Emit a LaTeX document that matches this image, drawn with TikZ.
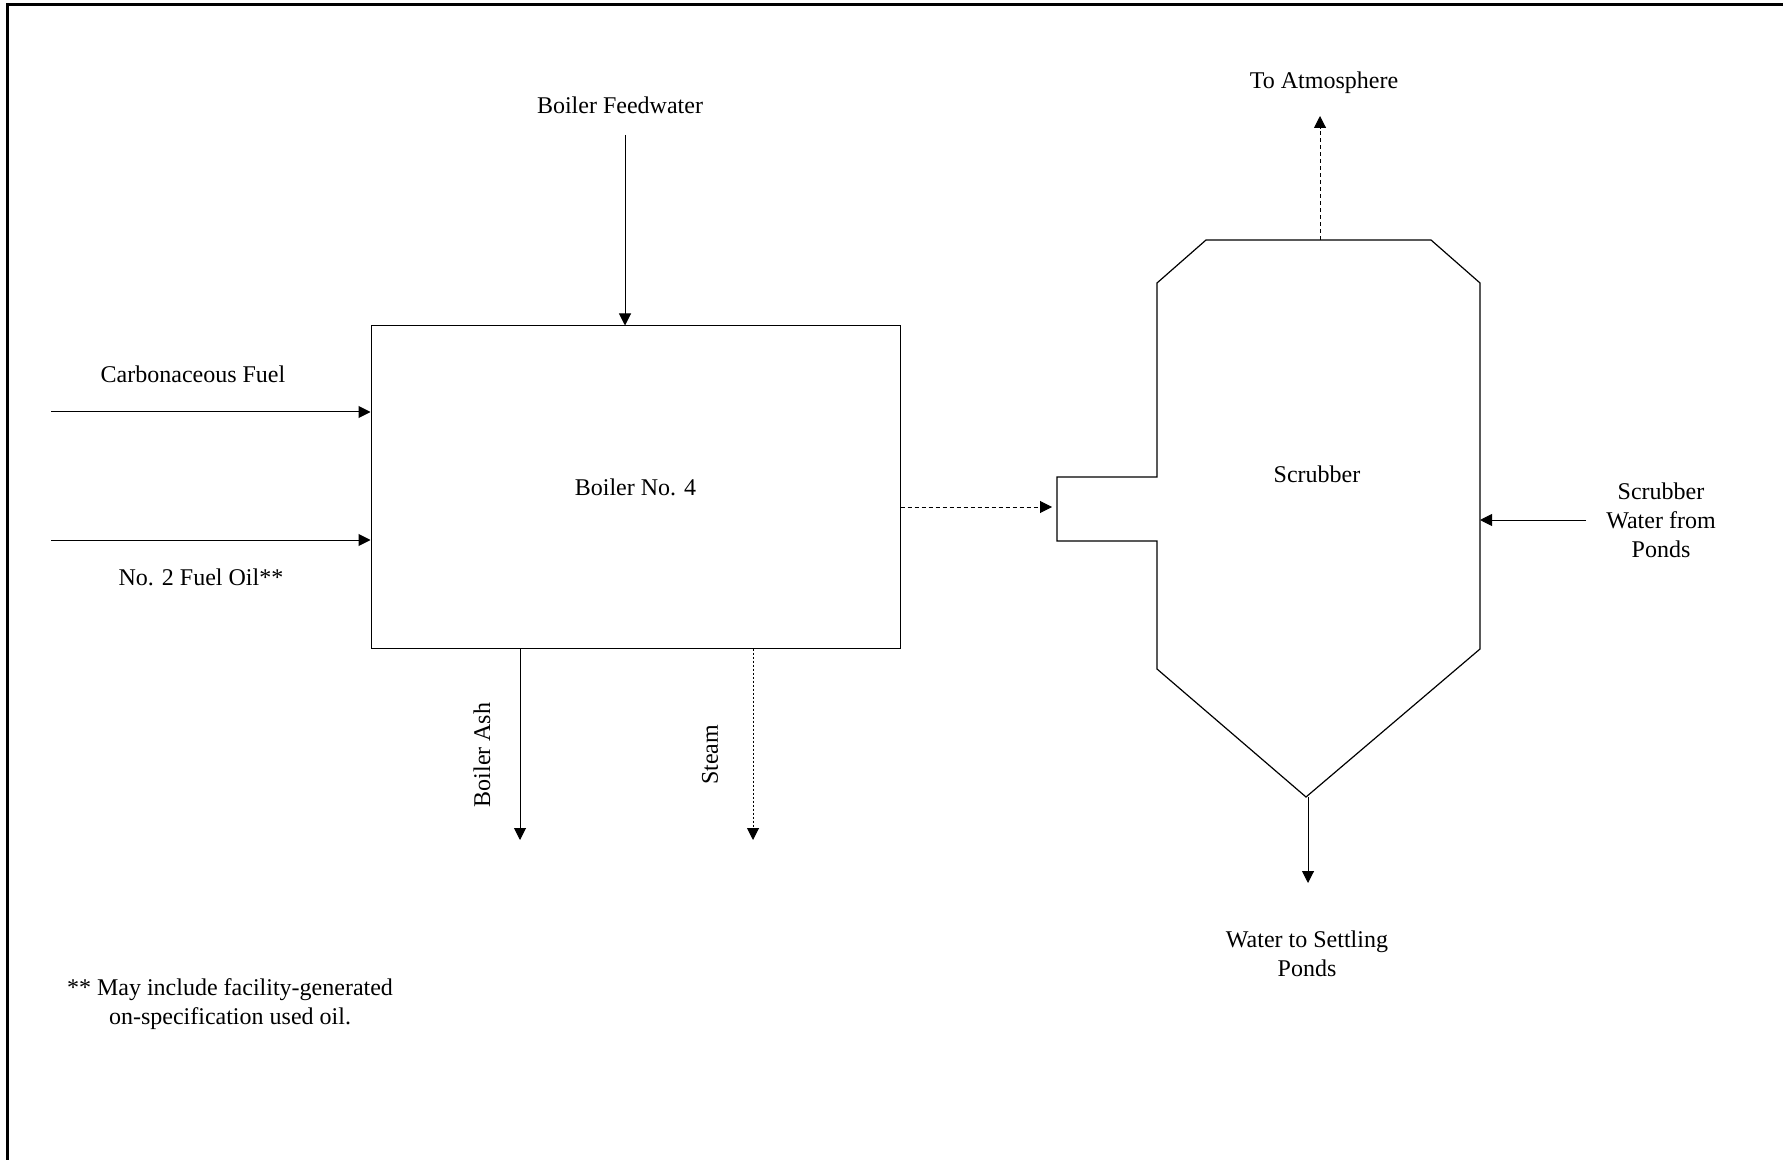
\documentclass[tikz,border=0pt]{standalone}
\usepackage{fontspec}
\setmainfont{Liberation Serif}
\usetikzlibrary{arrows.meta}
\def\drawflow{\draw[line width=0.5pt,-{Triangle[length=6pt,width=6pt]}]}
\def\drawgas{\draw[line width=0.5pt,dash pattern=on 2pt off 1.5pt,-{Triangle[length=6pt,width=6pt]}]}
\def\drawsteam{\draw[line width=0.5pt,dash pattern=on 1.2pt off 0.8pt,-{Triangle[length=6pt,width=6pt]}]}
\def\textnode{\node[font=\fontsize{12}{14.5}\selectfont,align=center,inner sep=0pt]}

\begin{document}
\begin{tikzpicture}[x=5pt,y=-5pt]
\useasboundingbox (0,0) rectangle (178.8,116);
\draw[line width=1.5pt] (0.7,116) -- (0.7,0.5) -- (178.3,0.5);
\node[draw,line width=0.5pt,minimum width=264.5pt,minimum height=161pt,inner sep=0pt,font=\fontsize{12}{14.5}\selectfont] (boiler) at (63.55,48.7) {Boiler No. 4};
\draw[line width=0.6pt] (120.6,24.0) -- (143.1,24.0) -- (148.0,28.3) -- (148.0,64.9)
  -- (130.6,79.7) -- (115.7,66.9) -- (115.7,54.1) -- (105.7,54.1) -- (105.7,47.7)
  -- (115.7,47.7) -- (115.7,28.3) -- cycle;
\textnode (scrub) at (131.7,47.4) {Scrubber};
\coordinate (fwin) at (62.5,13.5);
\textnode (fw) at (62.0,10.5) {Boiler Feedwater};
\drawflow (fwin) -- (fwin |- boiler.north);
\coordinate (cfin) at (5.1,41.2);
\textnode (cf) at (19.3,37.4) {Carbonaceous Fuel};
\drawflow (cfin) -- (cfin -| boiler.west);
\coordinate (foin) at (5.1,54.0);
\textnode (fo) at (20.1,57.7) {No. 2 Fuel Oil**};
\drawflow (foin) -- (foin -| boiler.west);
\coordinate (ashout) at (52.0,84.0);
\textnode[rotate=90] (ash) at (48.2,75.5) {Boiler Ash};
\drawflow (ashout |- boiler.south) -- (ashout);
\coordinate (steamout) at (75.3,84.0);
\textnode[rotate=90] (steam) at (71.0,75.5) {Steam};
\drawsteam (steamout |- boiler.south) -- (steamout);
\coordinate (gasin) at (105.2,50.7);
\drawgas (gasin -| boiler.east) -- (gasin);
\coordinate (stack) at (132.0,24.0);
\coordinate (atmout) at (132.0,11.6);
\textnode (atm) at (132.4,8.3) {To Atmosphere};
\drawgas (stack) -- (atmout);
\coordinate (swin) at (158.6,52.0);
\coordinate (scrubE) at (148.0,52.0);
\textnode (sw) at (166.1,52.0) {Scrubber\\Water from\\Ponds};
\drawflow (swin) -- (scrubE);
\coordinate (cone) at (130.8,79.7);
\coordinate (wout) at (130.8,88.3);
\textnode (ws) at (130.7,95.4) {Water to Settling\\Ponds};
\drawflow (cone) -- (wout);
\textnode (note) at (23.0,100.4) {** May include facility-generated\\on-specification used oil.};
\end{tikzpicture}
\end{document}
